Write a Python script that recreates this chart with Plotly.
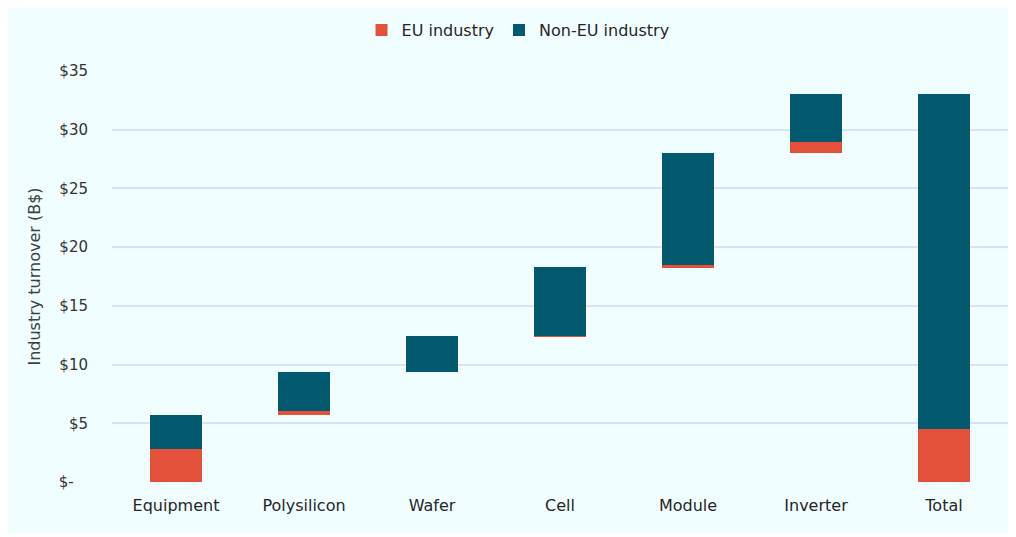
import plotly.graph_objects as go

categories = ["Equipment", "Polysilicon", "Wafer", "Cell", "Module", "Inverter", "Total"]
eu_values = [2.8, 0.35, 0.0, 0.05, 0.15, 0.9, 4.5]
non_eu_values = [2.9, 3.35, 3.0, 5.85, 9.6, 4.1, 28.55]
tick_vals = [0, 5, 10, 15, 20, 25, 30, 35]
tick_text = ["$-\u00a0\u00a0\u00a0", "$5", "$10", "$15", "$20", "$25", "$30", "$35"]

# floating (waterfall) bases: running total for the steps, zero for the Total bar
bases = []
running = 0.0
for i, c in enumerate(categories):
    if c == "Total":
        bases.append(0.0)
    else:
        bases.append(running)
        running += eu_values[i] + non_eu_values[i]

RED = "#E4513A"
TEAL = "#035A6E"
BG = "#F1FEFF"
FONT = "DejaVu Sans"

fig = go.Figure()
fig.add_trace(go.Bar(x=categories, y=bases,
                     marker=dict(color="rgba(0,0,0,0)", line_width=0),
                     showlegend=False, hoverinfo="skip"))
fig.add_trace(go.Bar(x=categories, y=eu_values, name="EU industry",
                     marker=dict(color=RED, line_width=0)))
fig.add_trace(go.Bar(x=categories, y=non_eu_values, name="Non-EU industry",
                     marker=dict(color=TEAL, line_width=0)))

fig.update_layout(
    width=1004, height=525,
    barmode="stack",
    bargap=0.59,
    paper_bgcolor=BG,
    plot_bgcolor=BG,
    margin=dict(l=104, r=4, t=63, b=51),
    font=dict(family=FONT, size=15, color="#404040"),
    legend=dict(orientation="h", x=0.508, xanchor="center", xref="container",
                y=0.958, yanchor="middle", yref="container", traceorder="normal",
                font=dict(size=16, color="#262626"), bgcolor="rgba(0,0,0,0)"),
    xaxis=dict(showgrid=False, showline=False, ticks="",
               ticklabelstandoff=12,
               tickfont=dict(size=16, color="#262626")),
    yaxis=dict(range=[0, 35], tickvals=tick_vals, ticktext=tick_text,
               showgrid=True, gridcolor="#D9E1F2", gridwidth=1.5,
               zeroline=False, showline=False, ticks="",
               ticklabelstandoff=23,
               tickfont=dict(size=15, color="#333333"),
               title=dict(text="Industry turnover (B$)", standoff=14,
                          font=dict(size=16, color="#404040"))),
)

fig.write_html("out.html")
